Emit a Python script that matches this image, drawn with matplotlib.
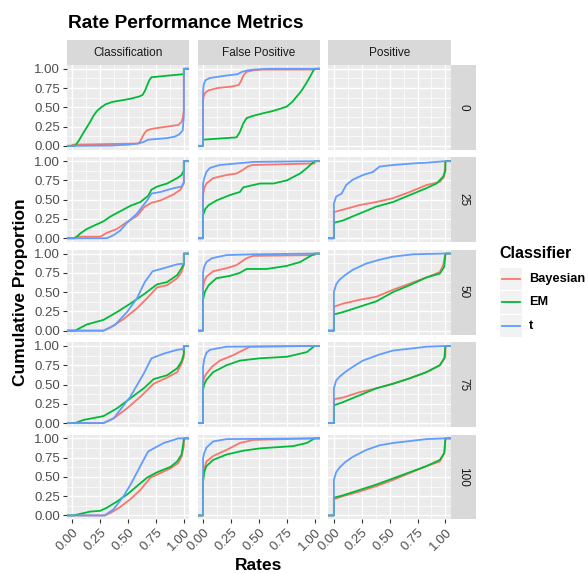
import matplotlib
matplotlib.use('Agg')
import matplotlib.pyplot as plt
from matplotlib.patches import Rectangle
from matplotlib.lines import Line2D

plt.rcParams['font.family'] = ['Liberation Sans', 'DejaVu Sans']

# ---------------- data ----------------
title = "Rate Performance Metrics"
metrics = ["Classification", "False Positive", "Positive"]
noise_levels = ["0", "25", "50", "75", "100"]
classifiers = ["Bayesian", "EM", "t"]
colors = ["#F8766D", "#00BA38", "#619CFF"]
tick_vals = [0.0, 0.25, 0.5, 0.75, 1.0]
tick_labels = ["0.00", "0.25", "0.50", "0.75", "1.00"]

# ECDF knots (rate, cumulative proportion)
cls0_bayes = [(0, 0), (0.0, 0.015), (0.59, 0.03), (0.61, 0.06), (0.63, 0.12), (0.65, 0.17), (0.67, 0.20), (0.71, 0.22), (0.85, 0.25), (0.95, 0.27), (0.98, 0.31), (0.99, 0.36), (1.0, 0.46), (1.0, 1.0)]
cls0_em = [(0.025, 0), (0.06, 0.07), (0.10, 0.17), (0.13, 0.24), (0.16, 0.31), (0.19, 0.39), (0.22, 0.45), (0.26, 0.50), (0.30, 0.54), (0.36, 0.57), (0.44, 0.59), (0.52, 0.61), (0.60, 0.64), (0.63, 0.66), (0.65, 0.71), (0.67, 0.78), (0.69, 0.85), (0.71, 0.89), (0.85, 0.91), (1.0, 0.93), (1.0, 1.0)]
cls0_t = [(0, 0), (0.34, 0.003), (0.50, 0.015), (0.59, 0.03), (0.64, 0.05), (0.68, 0.08), (0.72, 0.085), (0.85, 0.10), (0.92, 0.12), (0.96, 0.15), (0.99, 0.20), (1.0, 0.38), (1.0, 1.0)]

fp0_bayes = [(0, 0), (0, 0.59), (0.005, 0.64), (0.02, 0.69), (0.05, 0.72), (0.13, 0.75), (0.26, 0.77), (0.32, 0.79), (0.34, 0.84), (0.36, 0.91), (0.39, 0.96), (0.45, 0.98), (0.53, 0.99), (1.0, 0.99), (1.0, 1.0)]
fp0_em = [(0, 0), (0, 0.08), (0.30, 0.11), (0.33, 0.18), (0.36, 0.29), (0.39, 0.36), (0.45, 0.39), (0.53, 0.42), (0.62, 0.45), (0.69, 0.48), (0.75, 0.51), (0.80, 0.57), (0.84, 0.64), (0.88, 0.71), (0.92, 0.80), (0.96, 0.90), (0.99, 0.98), (1.0, 1.0)]
fp0_t = [(0, 0), (0, 0.70), (0.005, 0.79), (0.02, 0.85), (0.06, 0.88), (0.20, 0.91), (0.31, 0.93), (0.35, 0.96), (0.40, 0.98), (0.46, 0.99), (0.60, 1.0)]

cls25_bayes = [(0.025, 0), (0.03, 0.02), (0.25, 0.02), (0.31, 0.07), (0.40, 0.12), (0.49, 0.21), (0.58, 0.29), (0.65, 0.41), (0.71, 0.46), (0.79, 0.49), (0.91, 0.57), (0.97, 0.63), (1.0, 0.71), (1.0, 1.0)]
cls25_em = [(0.025, 0), (0.07, 0.06), (0.13, 0.12), (0.19, 0.16), (0.28, 0.22), (0.34, 0.28), (0.43, 0.35), (0.52, 0.42), (0.61, 0.47), (0.68, 0.55), (0.71, 0.63), (0.76, 0.67), (0.85, 0.71), (0.94, 0.78), (0.98, 0.82), (1.0, 0.88), (1.0, 1.0)]
cls25_t = [(0.0, 0), (0.31, 0), (0.37, 0.04), (0.43, 0.10), (0.49, 0.20), (0.58, 0.32), (0.67, 0.49), (0.71, 0.58), (0.79, 0.60), (0.91, 0.65), (0.98, 0.67), (1.0, 0.73), (1.0, 1.0)]

fp25_bayes = [(0, 0), (0, 0.56), (0.01, 0.65), (0.03, 0.71), (0.09, 0.78), (0.21, 0.82), (0.30, 0.84), (0.35, 0.88), (0.40, 0.93), (0.44, 0.95), (1.0, 0.97), (1.0, 1.0)]
fp25_em = [(0, 0), (0, 0.30), (0.02, 0.38), (0.05, 0.43), (0.12, 0.49), (0.24, 0.56), (0.33, 0.60), (0.36, 0.66), (0.51, 0.71), (0.63, 0.71), (0.75, 0.75), (0.87, 0.84), (0.93, 0.91), (1.0, 1.0)]
fp25_t = [(0, 0), (0, 0.71), (0.01, 0.78), (0.03, 0.86), (0.06, 0.91), (0.10, 0.93), (0.15, 0.95), (0.30, 0.97), (0.45, 0.99), (1.0, 1.0)]

pos25_bayes = [(0, 0), (0, 0.34), (0.08, 0.37), (0.23, 0.43), (0.38, 0.47), (0.53, 0.52), (0.68, 0.60), (0.83, 0.69), (0.95, 0.73), (0.99, 0.80), (1.0, 1.0)]
pos25_em = [(0, 0), (0, 0.20), (0.08, 0.23), (0.23, 0.32), (0.38, 0.41), (0.53, 0.47), (0.68, 0.56), (0.83, 0.65), (0.92, 0.71), (0.98, 0.80), (1.0, 0.88), (1.0, 1.0)]
pos25_t = [(0, 0), (0, 0.45), (0.02, 0.54), (0.07, 0.58), (0.11, 0.69), (0.17, 0.76), (0.26, 0.82), (0.35, 0.86), (0.41, 0.93), (0.53, 0.95), (0.71, 0.97), (0.83, 0.98), (1.0, 1.0)]

cls50_bayes = [(0, 0), (0.28, 0), (0.34, 0.04), (0.46, 0.15), (0.58, 0.29), (0.67, 0.42), (0.76, 0.56), (0.85, 0.59), (0.94, 0.68), (0.98, 0.76), (1.0, 0.85), (1.0, 1.0)]
cls50_em = [(0.025, 0), (0.13, 0.08), (0.28, 0.14), (0.40, 0.24), (0.52, 0.35), (0.64, 0.47), (0.76, 0.60), (0.85, 0.63), (0.94, 0.72), (0.98, 0.81), (1.0, 0.87), (1.0, 1.0)]
cls50_t = [(0, 0), (0.28, 0), (0.38, 0.07), (0.49, 0.24), (0.58, 0.42), (0.65, 0.63), (0.72, 0.77), (0.82, 0.81), (0.94, 0.86), (1.0, 0.87), (1.0, 1.0)]

fp50_bayes = [(0, 0), (0, 0.55), (0.01, 0.64), (0.03, 0.70), (0.09, 0.77), (0.21, 0.81), (0.30, 0.85), (0.39, 0.94), (0.45, 0.97), (1.0, 0.98), (1.0, 1.0)]
fp50_em = [(0, 0), (0, 0.40), (0.015, 0.50), (0.05, 0.59), (0.12, 0.68), (0.24, 0.71), (0.33, 0.75), (0.39, 0.80), (0.57, 0.80), (0.75, 0.84), (0.87, 0.89), (1.0, 1.0)]
fp50_t = [(0, 0), (0, 0.76), (0.01, 0.83), (0.03, 0.89), (0.08, 0.94), (0.21, 0.98), (0.45, 0.99), (1.0, 1.0)]

pos50_bayes = [(0, 0), (0, 0.31), (0.08, 0.35), (0.23, 0.40), (0.38, 0.44), (0.53, 0.53), (0.68, 0.61), (0.83, 0.69), (0.95, 0.76), (0.98, 0.85), (1.0, 1.0)]
pos50_em = [(0, 0), (0, 0.21), (0.08, 0.24), (0.23, 0.31), (0.38, 0.38), (0.53, 0.50), (0.68, 0.59), (0.83, 0.69), (0.95, 0.74), (0.99, 0.83), (1.0, 1.0)]
pos50_t = [(0, 0), (0, 0.50), (0.02, 0.60), (0.05, 0.66), (0.10, 0.72), (0.17, 0.79), (0.29, 0.87), (0.41, 0.92), (0.53, 0.96), (0.71, 0.99), (1.0, 1.0)]

cls75_bayes = [(0, 0), (0.28, 0), (0.37, 0.06), (0.49, 0.19), (0.61, 0.34), (0.73, 0.51), (0.85, 0.59), (0.94, 0.66), (0.98, 0.77), (1.0, 0.86), (1.0, 1.0)]
cls75_em = [(0.025, 0), (0.10, 0.04), (0.28, 0.09), (0.40, 0.19), (0.52, 0.32), (0.64, 0.45), (0.73, 0.57), (0.85, 0.62), (0.94, 0.71), (0.98, 0.80), (1.0, 0.90), (1.0, 1.0)]
cls75_t = [(0, 0), (0.28, 0), (0.37, 0.06), (0.52, 0.34), (0.64, 0.64), (0.71, 0.84), (0.82, 0.90), (0.94, 0.95), (1.0, 0.96), (1.0, 1.0)]

fp75_bayes = [(0, 0), (0, 0.51), (0.01, 0.59), (0.03, 0.64), (0.08, 0.73), (0.15, 0.81), (0.27, 0.88), (0.42, 0.99), (1.0, 1.0)]
fp75_em = [(0, 0), (0, 0.43), (0.01, 0.50), (0.03, 0.56), (0.09, 0.66), (0.21, 0.75), (0.33, 0.81), (0.51, 0.84), (0.75, 0.86), (0.93, 0.92), (1.0, 1.0)]
fp75_t = [(0, 0), (0, 0.73), (0.01, 0.83), (0.03, 0.91), (0.06, 0.95), (0.21, 0.99), (1.0, 1.0)]

pos75_bayes = [(0, 0), (0, 0.31), (0.08, 0.33), (0.23, 0.40), (0.38, 0.45), (0.53, 0.51), (0.68, 0.58), (0.83, 0.66), (0.95, 0.75), (1.0, 0.86), (1.0, 1.0)]
pos75_em = [(0, 0), (0, 0.23), (0.08, 0.27), (0.23, 0.36), (0.38, 0.45), (0.53, 0.51), (0.68, 0.58), (0.83, 0.66), (0.95, 0.75), (0.99, 0.84), (1.0, 1.0)]
pos75_t = [(0, 0), (0, 0.45), (0.02, 0.55), (0.05, 0.60), (0.10, 0.66), (0.17, 0.73), (0.26, 0.81), (0.41, 0.89), (0.53, 0.94), (0.71, 0.97), (0.83, 0.99), (1.0, 1.0)]

cls100_bayes = [(0, 0), (0.29, 0), (0.34, 0.03), (0.43, 0.11), (0.52, 0.21), (0.61, 0.33), (0.70, 0.49), (0.79, 0.55), (0.88, 0.61), (0.95, 0.68), (0.98, 0.76), (1.0, 0.90), (1.0, 1.0)]
cls100_em = [(0.01, 0), (0.10, 0.03), (0.16, 0.05), (0.25, 0.06), (0.31, 0.10), (0.40, 0.18), (0.49, 0.27), (0.58, 0.38), (0.67, 0.49), (0.76, 0.56), (0.88, 0.63), (0.94, 0.70), (0.98, 0.79), (1.0, 0.98), (1.0, 1.0)]
cls100_t = [(0, 0), (0.29, 0), (0.37, 0.08), (0.46, 0.25), (0.53, 0.42), (0.61, 0.64), (0.68, 0.83), (0.73, 0.87), (0.82, 0.94), (0.91, 0.98), (0.95, 1.0)]

fp100_bayes = [(0, 0), (0, 0.46), (0.01, 0.60), (0.03, 0.70), (0.09, 0.77), (0.21, 0.85), (0.33, 0.94), (0.45, 0.98), (1.0, 1.0)]
fp100_em = [(0, 0), (0, 0.44), (0.01, 0.56), (0.03, 0.64), (0.09, 0.72), (0.21, 0.79), (0.36, 0.84), (0.51, 0.87), (0.81, 0.90), (0.93, 0.94), (1.0, 1.0)]
fp100_t = [(0, 0), (0, 0.74), (0.01, 0.81), (0.03, 0.88), (0.09, 0.96), (0.21, 0.99), (1.0, 1.0)]

pos100_bayes = [(0, 0), (0, 0.21), (0.08, 0.25), (0.23, 0.31), (0.38, 0.38), (0.53, 0.46), (0.68, 0.55), (0.83, 0.64), (0.95, 0.70), (0.99, 0.81), (1.0, 1.0)]
pos100_em = [(0, 0), (0, 0.23), (0.08, 0.26), (0.23, 0.33), (0.38, 0.40), (0.53, 0.48), (0.68, 0.56), (0.83, 0.64), (0.95, 0.72), (0.99, 0.81), (1.0, 1.0)]
pos100_t = [(0, 0), (0, 0.46), (0.02, 0.56), (0.05, 0.62), (0.10, 0.69), (0.17, 0.76), (0.29, 0.85), (0.41, 0.91), (0.53, 0.94), (0.71, 0.97), (0.83, 0.99), (1.0, 1.0)]

grid_data = [
    [[cls0_bayes, cls0_em, cls0_t], [fp0_bayes, fp0_em, fp0_t], None],
    [[cls25_bayes, cls25_em, cls25_t], [fp25_bayes, fp25_em, fp25_t], [pos25_bayes, pos25_em, pos25_t]],
    [[cls50_bayes, cls50_em, cls50_t], [fp50_bayes, fp50_em, fp50_t], [pos50_bayes, pos50_em, pos50_t]],
    [[cls75_bayes, cls75_em, cls75_t], [fp75_bayes, fp75_em, fp75_t], [pos75_bayes, pos75_em, pos75_t]],
    [[cls100_bayes, cls100_em, cls100_t], [fp100_bayes, fp100_em, fp100_t], [pos100_bayes, pos100_em, pos100_t]],
]

# ---------------- layout (pixels) ----------------
W, H = 588, 574
fig = plt.figure(figsize=(W / 100, H / 100), dpi=100)
fig.patch.set_facecolor('white')


def rect(l, t, w, h):
    return [l / W, 1 - (t + h) / H, w / W, h / H]


col_left = [66.7, 197.5, 328.3]
pan_w = 122.7
row_top0 = 64.9
row_pitch = 92.4
pan_h = 84.8
strip_h = 24.5
rstrip_w = 25

XLIM = (-0.05, 1.05)
YLIM = (-0.05, 1.05)
minor = [0.125, 0.375, 0.625, 0.875]

for r in range(5):
    top = row_top0 + r * row_pitch
    for c in range(3):
        ax = fig.add_axes(rect(col_left[c], top, pan_w, pan_h))
        ax.set_facecolor('#EBEBEB')
        ax.set_xlim(*XLIM)
        ax.set_ylim(*YLIM)
        for s in ax.spines.values():
            s.set_visible(False)
        for m in minor:
            ax.axhline(m, color='white', lw=0.5, zorder=0.5)
            ax.axvline(m, color='white', lw=0.5, zorder=0.5)
        for t in tick_vals:
            ax.axhline(t, color='white', lw=1.0, zorder=0.6)
            ax.axvline(t, color='white', lw=1.0, zorder=0.6)
        ax.set_xticks(tick_vals)
        ax.set_yticks(tick_vals)
        ax.tick_params(length=3.0, width=0.8, color='#333333', labelcolor='#4D4D4D',
                       labelsize=9.5, pad=1.8)
        if c == 0:
            ax.set_yticklabels(tick_labels)
        else:
            ax.tick_params(axis='y', left=False, labelleft=False)
        if r == 4:
            ax.set_xticklabels(tick_labels, rotation=45, ha='right', va='top',
                               rotation_mode='anchor')
        else:
            ax.tick_params(axis='x', bottom=False, labelbottom=False)

        curves = grid_data[r][c]
        if curves is not None:
            for k, pts in enumerate(curves):
                xs = [XLIM[0]] + [p[0] for p in pts] + [XLIM[1]]
                ys = [0.0] + [p[1] for p in pts] + [1.0]
                ax.plot(xs, ys, color=colors[k], lw=1.3, zorder=2 + k,
                        solid_joinstyle='round', clip_on=True)

    # right strip
    sax = fig.add_axes(rect(col_left[2] + pan_w, top, rstrip_w, pan_h))
    sax.set_facecolor('#D9D9D9')
    sax.set_xticks([]); sax.set_yticks([])
    for s in sax.spines.values():
        s.set_visible(False)
    sax.text(0.5, 0.5, noise_levels[r], rotation=270, ha='center', va='center',
             fontsize=8.5, color='#1A1A1A', transform=sax.transAxes)

# top strips
for c in range(3):
    sax = fig.add_axes(rect(col_left[c], row_top0 - strip_h, pan_w, strip_h))
    sax.set_facecolor('#D9D9D9')
    sax.set_xticks([]); sax.set_yticks([])
    for s in sax.spines.values():
        s.set_visible(False)
    sax.text(0.5, 0.5, metrics[c], ha='center', va='center', fontsize=8.5,
             color='#1A1A1A', transform=sax.transAxes)

# titles
fig.text(67.5 / W, 1 - 23.5 / H, title, fontsize=13.8, fontweight='bold',
         ha='left', va='center', color='black')
fig.text((col_left[0] + col_left[2] + pan_w) / 2 / W, 1 - 565 / H, "Rates",
         fontsize=12.5, fontweight='bold', ha='center', va='center')
fig.text(20 / W, 1 - (row_top0 + (4 * row_pitch + pan_h) / 2) / H, "Cumulative Proportion",
         fontsize=12.5, fontweight='bold', ha='center', va='center', rotation=90)

# legend (ggplot-like)
lax = fig.add_axes([0, 0, 1, 1], facecolor='none')
lax.set_xlim(0, W)
lax.set_ylim(H, 0)
lax.axis('off')
lax.text(499.3, 253.7, "Classifier", fontsize=11.5, fontweight='bold', ha='left', va='center')
key_top = 267.5
key_h = 23.3
key_w = 21.7
for k, name in enumerate(classifiers):
    y0 = key_top + k * key_h
    lax.add_patch(Rectangle((500, y0 + 0.5), key_w, key_h - 1, facecolor='#F2F2F2',
                            edgecolor='none'))
    yc = y0 + key_h / 2
    lax.add_line(Line2D([501.7, 520], [yc, yc], color=colors[k], lw=1.3))
    lax.text(529, yc, name, fontsize=9.2, fontweight='bold', ha='left', va='center')

fig.savefig('out.png', dpi=100)
